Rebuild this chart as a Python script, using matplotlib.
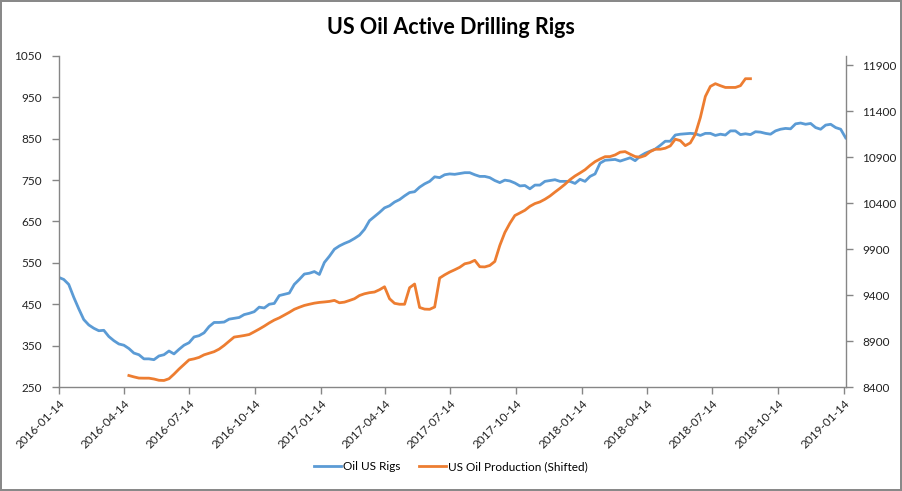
import numpy as np
import pandas as pd
import matplotlib
matplotlib.use("Agg")
import matplotlib.pyplot as plt
import matplotlib.dates as mdates

plt.rcParams["font.family"] = ["Lato", "DejaVu Sans"]

# 每周数据，从 2016-01-14 开始
start_date = "2016-01-14"
rig_counts = [
    515, 510, 498, 467, 439, 413, 400, 392, 386, 387, 372, 362, 354, 351, 343, 332,
    328, 318, 318, 316, 325, 328, 337, 330, 341, 351, 357, 371, 374, 381, 396, 406,
    406, 407, 414, 416, 418, 425, 428, 432, 443, 441, 450, 452, 471, 474, 477, 498,
    510, 523, 525,
    529, 522, 551, 566, 583, 591, 597, 602, 609, 617, 631, 652, 662, 672, 683, 688,
    697, 703, 712, 720, 722, 733, 741, 747, 758, 756, 763, 765, 764, 766, 768, 768,
    763, 759, 759, 756, 749, 744, 750, 748, 743, 736, 737, 729, 738, 738, 747, 749,
    751, 747, 747, 747,
    742, 752, 747, 759, 765, 791, 798, 799, 800, 796, 800, 804, 797, 808, 815, 820,
    825, 834, 844, 844, 859, 861, 862, 863, 862, 858, 863, 863, 858, 861, 859, 869,
    869, 860, 862, 860, 867, 866, 863, 861, 869, 873, 875, 874, 886, 888, 885, 887,
    877, 873, 883, 885,
    877, 873, 852,
]

# 产量序列从第 14 周开始
prod_offset = 14
production = [
    8525, 8510, 8497, 8496, 8496, 8487, 8473, 8471, 8490, 8540, 8595, 8645, 8695,
    8706, 8722, 8750, 8767, 8784, 8812, 8852, 8898, 8943, 8951, 8960, 8971, 9000,
    9030, 9062, 9097, 9128, 9152, 9182, 9212, 9245, 9267, 9287, 9300, 9312, 9320,
    9325, 9331, 9342, 9316, 9323, 9341, 9360, 9395, 9414, 9426, 9433, 9458, 9490,
    9360, 9310, 9300, 9300, 9480, 9520, 9265, 9247, 9245, 9270, 9585, 9620, 9650,
    9675, 9702, 9740, 9752, 9778, 9708, 9706, 9722, 9765, 9940, 10080, 10180, 10265,
    10293, 10322, 10365, 10395, 10413, 10442, 10477, 10520, 10561, 10605, 10655,
    10695, 10728, 10763, 10810, 10851, 10880, 10905, 10906, 10924, 10954, 10960,
    10932, 10906, 10899, 10917, 10960, 10986, 10986, 10997, 11022, 11095, 11080,
    11025, 11055, 11150, 11330, 11560, 11669, 11699, 11677, 11658, 11658, 11658,
    11677, 11753, 11753,
]

x_ticks = ["2016-01-14", "2016-04-14", "2016-07-14", "2016-10-14", "2017-01-14",
           "2017-04-14", "2017-07-14", "2017-10-14", "2018-01-14", "2018-04-14",
           "2018-07-14", "2018-10-14", "2019-01-14"]
left_ticks = [250, 350, 450, 550, 650, 750, 850, 950, 1050]
right_ticks = [8400, 8900, 9400, 9900, 10400, 10900, 11400, 11900]

weeks = pd.date_range(start_date, periods=len(rig_counts), freq="7D")
prod_weeks = weeks[prod_offset:prod_offset + len(production)]

BLUE = "#5B9BD5"
ORANGE = "#ED7D31"
AXIS = "#868686"

fig = plt.figure(figsize=(9.02, 4.91), dpi=100)
fig.patch.set_edgecolor("#898989")
fig.patch.set_linewidth(1.5)
ax = fig.add_axes([58.7 / 902, 1 - 387 / 491, (845.7 - 58.7) / 902, (387 - 56) / 491])
ax2 = ax.twinx()

l1, = ax.plot(weeks, rig_counts, color=BLUE, lw=2, label="Oil US Rigs")
l2, = ax2.plot(prod_weeks, production, color=ORANGE, lw=2,
               label="US Oil Production (Shifted)")

ax.set_xlim(weeks[0], weeks[-1])
ax.set_ylim(250, 1050)
ax.set_yticks(left_ticks)
ax2.set_ylim(8400, 12000)
ax2.set_yticks(right_ticks)
ax.set_xticks(pd.to_datetime(x_ticks))
ax.set_xticklabels(x_ticks, rotation=45, ha="right", rotation_mode="anchor")

for a in (ax, ax2):
    for s in a.spines.values():
        s.set_visible(False)
    a.tick_params(colors=AXIS, labelcolor="#222222", labelsize=8.5, length=5, width=1)
ax.spines["left"].set_visible(True)
ax.spines["bottom"].set_visible(True)
ax2.spines["right"].set_visible(True)
for s in (ax.spines["left"], ax.spines["bottom"], ax2.spines["right"]):
    s.set_color(AXIS)
    s.set_linewidth(1)
ax.tick_params(axis="y", pad=7)
ax2.tick_params(axis="y", pad=7)
ax.tick_params(axis="x", pad=3)

fig.text(0.5, 1 - 27 / 491, "US Oil Active Drilling Rigs", ha="center", va="center",
         fontsize=15.5, fontweight="bold", color="black")

fig.legend(handles=[l1, l2], loc="center", bbox_to_anchor=(0.5, 1 - 467 / 491),
           ncol=2, frameon=False, fontsize=8.5, handlelength=2.3, handletextpad=0.15,
           columnspacing=1.6)

fig.savefig("out.png", dpi=100)
